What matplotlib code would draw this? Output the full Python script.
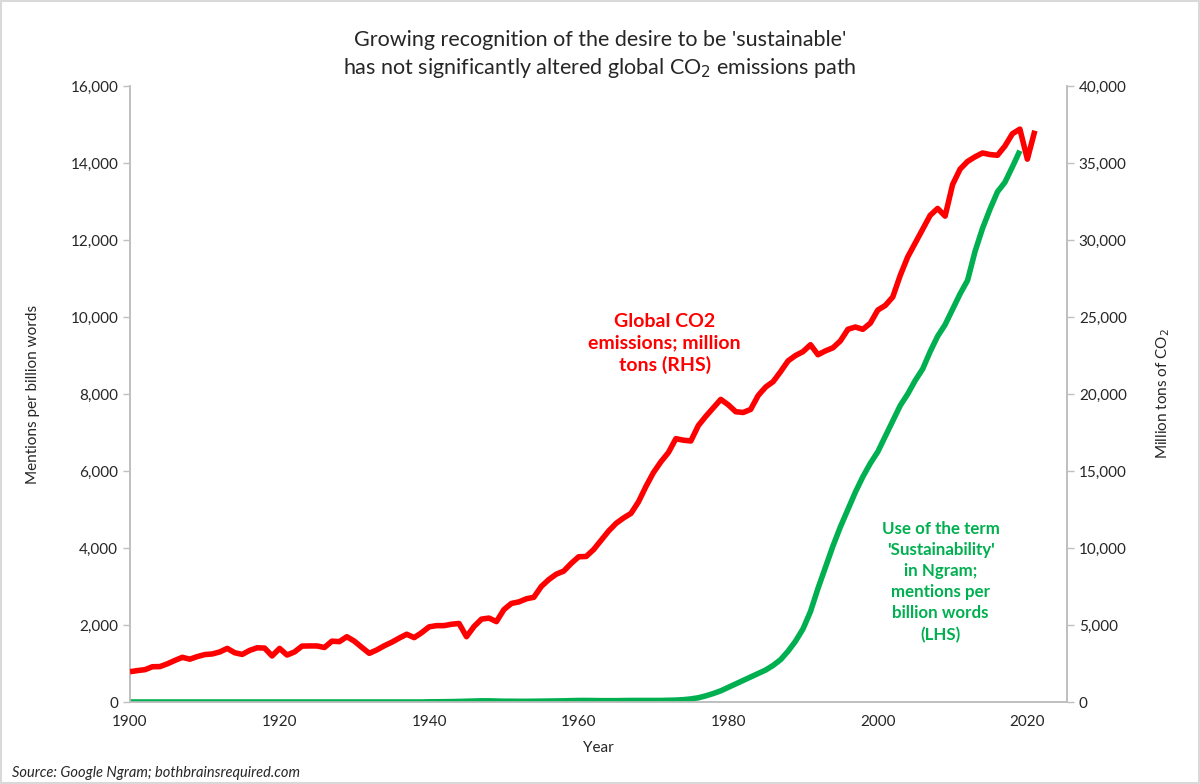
import matplotlib
matplotlib.use("Agg")
import matplotlib.pyplot as plt
from matplotlib.ticker import FuncFormatter, MultipleLocator
from matplotlib.patches import Rectangle

plt.rcParams['font.family'] = ['Lato', 'DejaVu Sans']

# global CO2 emissions, million tons (right axis), 1900-2021
co2_years = list(range(1900, 2022))
co2 = [1968, 2040, 2100, 2290, 2300, 2480, 2700, 2900, 2780, 2950,
       3080, 3120, 3250, 3480, 3200, 3090, 3350, 3520, 3500, 2990,
       3480, 3050, 3250, 3630, 3640, 3640, 3540, 3950, 3920, 4240,
       3950, 3550, 3160, 3380, 3650, 3880, 4150, 4400, 4180, 4500,
       4880, 4960, 4960, 5050, 5100, 4240, 4900, 5380, 5450, 5220,
       6000, 6400, 6500, 6700, 6800, 7500, 7950, 8300, 8500, 9000,
       9430, 9450, 9900, 10500, 11100, 11600, 11950, 12250, 13000, 14000,
       14900, 15600, 16200, 17100, 17000, 16950, 17950, 18550, 19100, 19650,
       19300, 18850, 18800, 19000, 19900, 20450, 20800, 21450, 22150, 22500,
       22750, 23200, 22550, 22800, 23000, 23450, 24200, 24350, 24200, 24600,
       25450, 25750, 26300, 27700, 28900, 29800, 30700, 31600, 32050, 31550,
       33600, 34600, 35100, 35400, 35650, 35550, 35500, 36100, 36900, 37200,
       35250, 37100]

# 'sustainability' mentions per billion words (left axis), 1900-2019
ngram_years = list(range(1900, 2020))
ngram = [0] * 40 + [
    5, 5, 8, 10, 15, 20, 25, 30, 30, 25,
    20, 20, 18, 18, 20, 22, 25, 28, 30, 35,
    40, 40, 38, 35, 35, 35, 38, 40, 40, 40,
    40, 40, 45, 50, 60, 80, 110, 160, 220, 290,
    380, 470, 560, 650, 740, 830, 950, 1100, 1320, 1580,
    1900, 2350, 2950, 3500, 4050, 4550, 5000, 5450, 5850, 6200,
    6500, 6900, 7300, 7700, 8000, 8350, 8650, 9100, 9500, 9800,
    10200, 10600, 10950, 11700, 12300, 12800, 13250, 13500, 13900, 14320]

red = '#FF0000'
green = '#00B050'
grey = '#BFBFBF'
txt = '#262626'

fig = plt.figure(figsize=(12, 7.84), dpi=100)
ax = fig.add_axes([130 / 1200, 82 / 784, 937 / 1200, 616 / 784])
ax2 = ax.twinx()

ax.plot(ngram_years, ngram, color=green, linewidth=4, solid_joinstyle='round',
        solid_capstyle='butt', zorder=3)
ax2.plot(co2_years, co2, color=red, linewidth=4, solid_joinstyle='round',
         solid_capstyle='butt', zorder=3)

ax.set_xlim(1900, 2025.3)
ax.set_ylim(0, 16000)
ax2.set_ylim(0, 40000)
ax.xaxis.set_major_locator(MultipleLocator(20))
ax.yaxis.set_major_locator(MultipleLocator(2000))
ax2.yaxis.set_major_locator(MultipleLocator(5000))
comma = FuncFormatter(lambda v, p: f'{int(v):,}')
ax.yaxis.set_major_formatter(comma)
ax2.yaxis.set_major_formatter(comma)

for a in (ax, ax2):
    a.spines['top'].set_visible(False)
    for s in ('left', 'right', 'bottom'):
        a.spines[s].set_color(grey)
        a.spines[s].set_linewidth(1.2)
    a.tick_params(axis='y', colors=grey, labelcolor=txt, labelsize=11, length=5, width=1)
    a.tick_params(axis='x', length=0, labelcolor=txt, labelsize=11, pad=9)

ax.set_xlabel('Year', fontsize=11, color=txt, labelpad=9)
ax.set_ylabel('Mentions per billion words', fontsize=11, color=txt, labelpad=22)
ax2.set_ylabel('Million tons of CO$_2$', fontsize=11, color=txt, labelpad=20)

fig.text(0.5, 0.930, "Growing recognition of the desire to be 'sustainable'\n"
         "has not significantly altered global CO$_2$ emissions path",
         ha='center', va='center', fontsize=15.5, color=txt, linespacing=1.3)

ax2.text(1971.5, 23300, 'Global CO2\nemissions; million\ntons (RHS)', color=red,
         fontsize=14, fontweight='bold', ha='center', va='center', linespacing=1.3)
ax.text(2008.4, 3120, "Use of the term\n'Sustainability'\nin Ngram;\nmentions per\n"
        "billion words\n(LHS)", color=green, fontsize=12.2, fontweight='bold',
        ha='center', va='center', linespacing=1.4)

fig.text(12 / 1200, 1 - 773 / 784, 'Source: Google Ngram; bothbrainsrequired.com',
         fontsize=10.5, style='italic', color=txt, ha='left', va='center')

fig.patches.append(Rectangle((0.001, 0.001), 0.998, 0.998, transform=fig.transFigure,
                             fill=False, edgecolor='#D9D9D9', linewidth=1.5))

fig.savefig('out.png', dpi=100)
